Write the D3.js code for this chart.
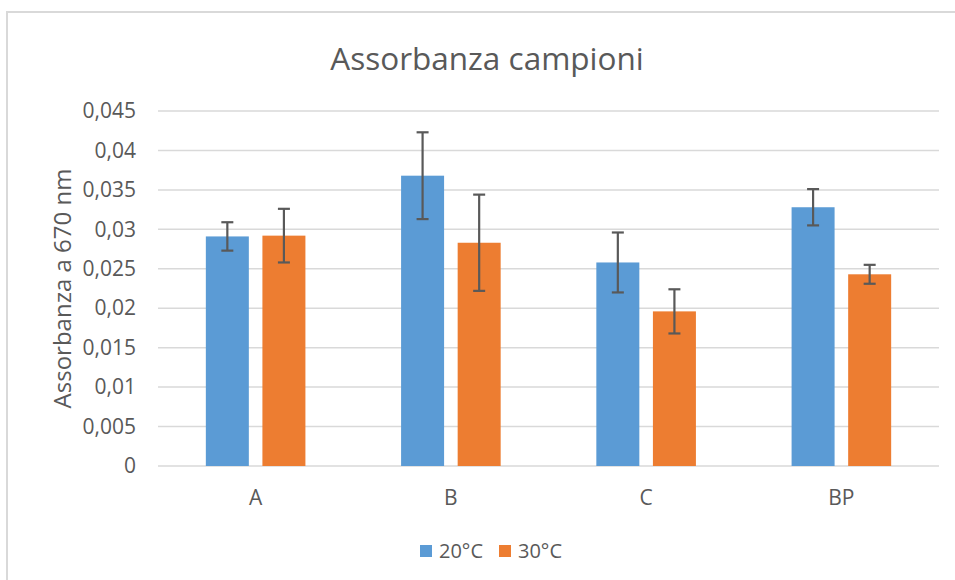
<!DOCTYPE html>
<html><head><meta charset="utf-8">
<script src="https://cdn.jsdelivr.net/npm/d3@7"></script>
<style>
html,body{margin:0;padding:0;background:#fff;}
svg{display:block;font-family:"Open Sans","Noto Sans",sans-serif;}
</style></head>
<body>
<svg id="chart" width="955" height="580"></svg>
<script>
const categories = ["A", "B", "C", "BP"];
const seriesNames = ["20°C", "30°C"];
const values20 = [0.0291, 0.0368, 0.0258, 0.0328];
const values30 = [0.0292, 0.0283, 0.0196, 0.0243];
const err20 = [0.0018, 0.0055, 0.0038, 0.0023];
const err30 = [0.0034, 0.0061, 0.0028, 0.0012];
const yTicks = [0, 0.005, 0.01, 0.015, 0.02, 0.025, 0.03, 0.035, 0.04, 0.045];
const colors = ["#5b9bd5", "#ed7d31"];
const titleText = "Assorbanza campioni";
const yLabel = "Assorbanza a 670 nm";

const svg = d3.select("#chart");
const M = {left:158, right:939, top:111, bottom:466};

// chart frame
svg.append("rect").attr("x",7).attr("y",12).attr("width",1200).attr("height",1200)
  .attr("fill","#fff").attr("stroke","#d9d9d9").attr("stroke-width",2);

const y = d3.scaleLinear().domain([0,0.045]).range([M.bottom, M.top]);
const x0 = d3.scaleBand().domain(categories).range([M.left, M.right]).paddingInner(0.49).paddingOuter(0.245);
const x1 = d3.scaleBand().domain(seriesNames).range([0, x0.bandwidth()]).paddingInner(0.24).paddingOuter(0);

const it = d3.formatLocale({decimal:",", thousands:".", grouping:[3], currency:["","€"]});
const fmt = it.format("~g");

// y axis labels and gridlines
const yAxis = d3.axisLeft(y).tickValues(yTicks).tickFormat(fmt).tickSize(0).tickPadding(22);
const gy = svg.append("g").attr("transform",`translate(${M.left},0)`).call(yAxis);
gy.select(".domain").remove();
gy.selectAll("text").attr("fill","#595959").style("font-size","21px").style("font-family","'Open Sans',sans-serif");
svg.append("g").selectAll("line").data(yTicks).join("line")
  .attr("x1",M.left).attr("x2",M.right).attr("y1",d=>y(d)).attr("y2",d=>y(d))
  .attr("stroke","#d9d9d9").attr("stroke-width",1.5);

// bars
const data = categories.map((c,i)=>({cat:c, items:[
  {s:seriesNames[0], v:values20[i], e:err20[i], c:colors[0]},
  {s:seriesNames[1], v:values30[i], e:err30[i], c:colors[1]}]}));
const groups = svg.append("g").selectAll("g").data(data).join("g")
  .attr("transform",d=>`translate(${x0(d.cat)},0)`);
groups.selectAll("rect").data(d=>d.items).join("rect")
  .attr("x",d=>x1(d.s)).attr("width",x1.bandwidth())
  .attr("y",d=>y(d.v)).attr("height",d=>y(0)-y(d.v)).attr("fill",d=>d.c);

// error bars
const eb = groups.selectAll("g.err").data(d=>d.items).join("g").attr("class","err")
  .attr("stroke","#595959").attr("stroke-width",2.2);
eb.append("line").attr("x1",d=>x1(d.s)+x1.bandwidth()/2).attr("x2",d=>x1(d.s)+x1.bandwidth()/2)
  .attr("y1",d=>y(d.v+d.e)).attr("y2",d=>y(d.v-d.e));
eb.append("line").attr("x1",d=>x1(d.s)+x1.bandwidth()/2-6).attr("x2",d=>x1(d.s)+x1.bandwidth()/2+6)
  .attr("y1",d=>y(d.v+d.e)).attr("y2",d=>y(d.v+d.e));
eb.append("line").attr("x1",d=>x1(d.s)+x1.bandwidth()/2-6).attr("x2",d=>x1(d.s)+x1.bandwidth()/2+6)
  .attr("y1",d=>y(d.v-d.e)).attr("y2",d=>y(d.v-d.e));

// x axis
const xAxis = d3.axisBottom(x0).tickSize(0).tickPadding(24);
const gx = svg.append("g").attr("transform",`translate(0,${M.bottom})`).call(xAxis);
gx.select(".domain").remove();
gx.selectAll("text").attr("fill","#595959").style("font-size","21px").style("font-family","'Open Sans',sans-serif");

// title
svg.append("text").attr("x",487).attr("y",70).attr("text-anchor","middle")
  .attr("fill","#595959").style("font-size","31.5px").text(titleText);

// y label
svg.append("text").attr("transform",`translate(71,${(M.top+M.bottom)/2}) rotate(-90)`)
  .attr("text-anchor","middle").attr("fill","#595959").style("font-size","24px").text(yLabel);

// legend
const leg = svg.append("g").attr("transform","translate(420,545)");
const li = leg.selectAll("g").data(seriesNames).join("g").attr("transform",(d,i)=>`translate(${i*79},0)`);
li.append("rect").attr("width",12).attr("height",12).attr("fill",(d,i)=>colors[i]);
li.append("text").attr("x",19).attr("y",13).attr("fill","#595959").style("font-size","20px").text(d=>d);
</script>
</body></html>
